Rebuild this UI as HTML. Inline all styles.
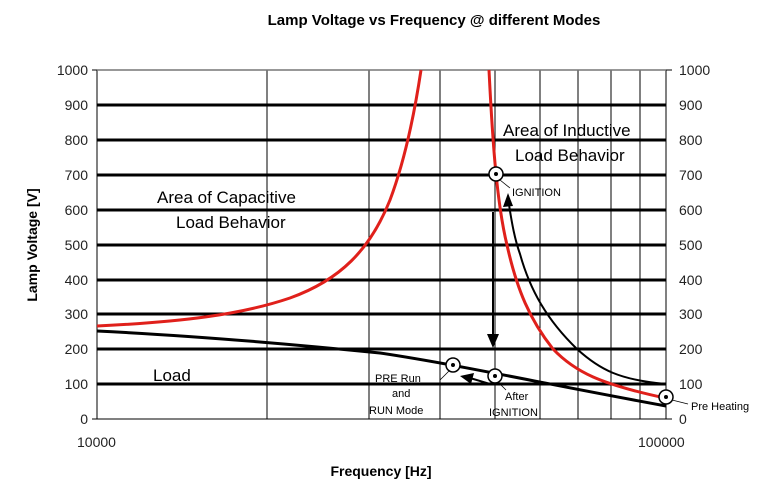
<!DOCTYPE html>
<html><head><style>
body{margin:0;background:#fff;}
svg text{font-family:"Liberation Sans",Arial,sans-serif;}
</style></head><body>
<svg width="771" height="482" viewBox="0 0 771 482" xmlns="http://www.w3.org/2000/svg">
<text x="434" y="25" font-size="15" font-weight="bold" text-anchor="middle">Lamp Voltage vs Frequency @ different Modes</text>
<!-- vertical gridlines -->
<g stroke="#000" stroke-width="1">
<line x1="97" y1="70" x2="97" y2="419"/>
<line x1="267" y1="70" x2="267" y2="419"/>
<line x1="369" y1="70" x2="369" y2="419"/>
<line x1="440" y1="70" x2="440" y2="419"/>
<line x1="495" y1="70" x2="495" y2="419"/>
<line x1="540" y1="70" x2="540" y2="419"/>
<line x1="578" y1="70" x2="578" y2="419"/>
<line x1="611" y1="70" x2="611" y2="419"/>
<line x1="640" y1="70" x2="640" y2="419"/>
<line x1="666" y1="70" x2="666" y2="419"/>
<line x1="97" y1="419" x2="666" y2="419"/>
</g>
<line x1="97" y1="70" x2="666" y2="70" stroke="#777" stroke-width="1.5"/>
<g stroke="#000" stroke-width="3">
<line x1="97" y1="105" x2="666" y2="105"/>
<line x1="97" y1="140" x2="666" y2="140"/>
<line x1="97" y1="175" x2="666" y2="175"/>
<line x1="97" y1="210" x2="666" y2="210"/>
<line x1="97" y1="245" x2="666" y2="245"/>
<line x1="97" y1="280" x2="666" y2="280"/>
<line x1="97" y1="314" x2="666" y2="314"/>
<line x1="97" y1="349" x2="666" y2="349"/>
<line x1="97" y1="384" x2="666" y2="384"/>
</g>
<!-- ticks -->
<g stroke="#000" stroke-width="1">
<line x1="92" y1="70" x2="97" y2="70"/><line x1="92" y1="419" x2="97" y2="419"/>
<line x1="666" y1="70" x2="672" y2="70"/><line x1="666" y1="419" x2="672" y2="419"/>
</g>
<g font-size="14" fill="#222" text-anchor="end">
<text x="88" y="75">1000</text><text x="88" y="110">900</text><text x="88" y="145">800</text><text x="88" y="180">700</text><text x="88" y="215">600</text><text x="88" y="250">500</text><text x="88" y="285">400</text><text x="88" y="319">300</text><text x="88" y="354">200</text><text x="88" y="389">100</text><text x="88" y="424">0</text>
</g>
<g font-size="14" fill="#222">
<text x="679" y="75">1000</text><text x="679" y="110">900</text><text x="679" y="145">800</text><text x="679" y="180">700</text><text x="679" y="215">600</text><text x="679" y="250">500</text><text x="679" y="285">400</text><text x="679" y="319">300</text><text x="679" y="354">200</text><text x="679" y="389">100</text><text x="679" y="424">0</text>
</g>
<text x="77" y="447" font-size="14" fill="#222">10000</text>
<text x="638" y="447" font-size="14" fill="#222">100000</text>
<text x="381" y="476" font-size="14" font-weight="bold" text-anchor="middle">Frequency [Hz]</text>
<text transform="translate(37,245) rotate(-90)" font-size="14" font-weight="bold" text-anchor="middle">Lamp Voltage [V]</text>
<!-- curves -->
<path d="M97,326 C180,322 240,315 290,298 C340,280 370,250 390,200 C405,160 415,110 421,70" fill="none" stroke="#e0201b" stroke-width="3"/>
<path d="M489,70 C492,130 496,200 507,245 C517,290 530,320 553,349 C575,372 600,384 665,398" fill="none" stroke="#e0201b" stroke-width="3"/>
<path d="M508,198 C512,225 515,240 520,254 C530,290 547,320 577,349 C600,370 620,380 666,384" fill="none" stroke="#000" stroke-width="2"/>
<path d="M97,331 C200,336 300,345 380,353 C460,365 540,383 666,406" fill="none" stroke="#000" stroke-width="3"/>
<polygon points="508,193 503,207 513,206" fill="#000"/>
<line x1="493" y1="212" x2="493" y2="338" stroke="#000" stroke-width="2"/>
<polygon points="487,334 499,334 493,348" fill="#000"/>
<line x1="490" y1="384" x2="470" y2="378" stroke="#000" stroke-width="2"/>
<polygon points="460,376 474,373 471,384" fill="#000"/>
<!-- markers -->
<g fill="#fff" stroke="#000" stroke-width="1.5">
<circle cx="496" cy="174" r="7"/><circle cx="453" cy="365" r="7"/><circle cx="495" cy="376" r="7"/><circle cx="666" cy="397" r="7"/>
</g>
<g fill="#000"><circle cx="496" cy="174" r="2"/><circle cx="453" cy="365" r="2"/><circle cx="495" cy="376" r="2"/><circle cx="666" cy="397" r="2"/></g>
<g stroke="#000" stroke-width="0.8">
<line x1="500" y1="180" x2="510" y2="188"/>
<line x1="449" y1="371" x2="440" y2="380"/>
<line x1="498" y1="382" x2="506" y2="390"/>
<line x1="672" y1="400" x2="688" y2="404"/>
</g>
<g font-size="11" fill="#000">
<text x="512" y="196">IGNITION</text>
<text x="375" y="382">PRE Run</text>
<text x="392" y="397">and</text>
<text x="369" y="414">RUN Mode</text>
<text x="505" y="400">After</text>
<text x="489" y="416">IGNITION</text>
<text x="691" y="410">Pre Heating</text>
</g>
<g font-size="17" fill="#000">
<text x="157" y="203">Area of Capacitive</text>
<text x="176" y="228">Load Behavior</text>
<text x="503" y="136">Area of Inductive</text>
<text x="515" y="161">Load Behavior</text>
<text x="153" y="381">Load</text>
</g>
</svg>
</body></html>
